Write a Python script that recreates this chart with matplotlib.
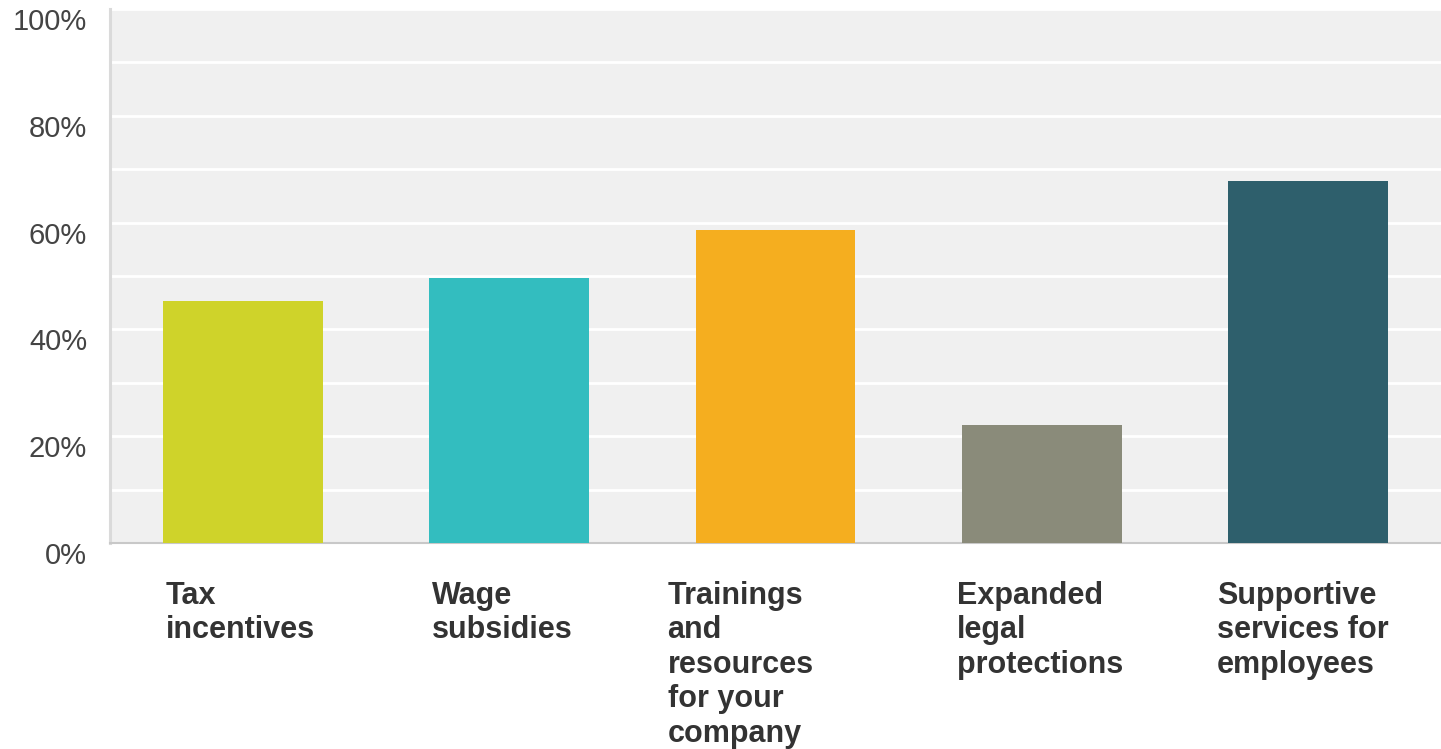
import matplotlib
matplotlib.use("Agg")
import matplotlib.pyplot as plt
import numpy as np

categories = ["Tax\nincentives", "Wage\nsubsidies", "Trainings\nand\nresources\nfor your\ncompany",
              "Expanded\nlegal\nprotections", "Supportive\nservices for\nemployees"]
values = [45.4, 49.7, 58.7, 22.1, 67.7]
colors = ["#CFD32A", "#33BDBF", "#F5AE1F", "#8A8B7A", "#2E5F6C"]
ytick_values = [0, 20, 40, 60, 80, 100]
ytick_labels = ["0%", "20%", "40%", "60%", "80%", "100%"]

# horizontal pixel offset of each category label's left edge from its bar centre
label_dx = [-77, -77, -108, -85, -91]

W, H = 1441, 749
fig = plt.figure(figsize=(W / 100, H / 100), dpi=100)
ax = fig.add_axes([110 / W, 1 - 543 / H, 1 - 110 / W, (543 - 9) / H])
ax.set_facecolor("#F0F0F0")

x = np.arange(len(categories))
ax.bar(x, values, width=0.6, color=colors, zorder=3)

ax.set_xlim(-0.5, len(categories) - 0.5)
ax.set_ylim(0, 100)
ax.set_yticks(np.arange(0, 101, 10))
ax.yaxis.grid(True, color="white", linewidth=2, zorder=1)
ax.set_axisbelow(True)
ax.tick_params(axis="both", length=0, labelleft=False, labelbottom=False)
ax.set_xticks([])

for s in ["top", "right"]:
    ax.spines[s].set_visible(False)
ax.spines["left"].set_color("#DADADA")
ax.spines["left"].set_linewidth(2.2)
ax.spines["bottom"].set_color("#C8C8C8")
ax.spines["bottom"].set_linewidth(1.5)

for v, lab in zip(ytick_values, ytick_labels):
    ax.annotate(lab, xy=(0, v), xycoords=("axes fraction", "data"),
                xytext=(-23, -21), textcoords="offset pixels",
                ha="right", va="baseline", fontsize=21,
                family="Liberation Sans", color="#444444", annotation_clip=False)

for i, lab in enumerate(categories):
    ax.annotate(lab, xy=(i, 0), xycoords=("data", "axes fraction"),
                xytext=(label_dx[i], -38), textcoords="offset pixels",
                ha="left", va="top", fontsize=22, fontweight="bold",
                family="Liberation Sans", color="#333333", linespacing=1.195,
                annotation_clip=False)

fig.savefig("out.png", dpi=100, facecolor="white")
